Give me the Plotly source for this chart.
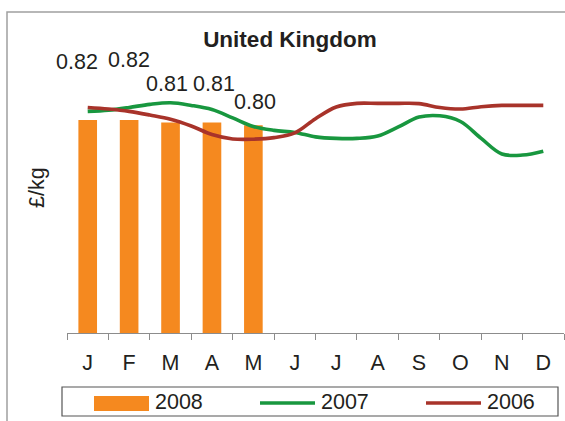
import plotly.graph_objects as go

# ---------------- data ----------------
months = ["J", "F", "M", "A", "M", "J", "J", "A", "S", "O", "N", "D"]
series_names = ["2008", "2007", "2006"]

bar_x = [0, 1, 2, 3, 4]
bar_2008 = [0.82, 0.82, 0.81, 0.81, 0.80]
bar_labels = ["0.82", "0.82", "0.81", "0.81", "0.80"]

# half-month positions (month index) for the line series
line_x = [i / 2 for i in range(23)]
line_2007 = [0.853, 0.858, 0.868, 0.880, 0.886, 0.876, 0.860, 0.828, 0.795, 0.780,
             0.772, 0.755, 0.749, 0.749, 0.758, 0.793, 0.831, 0.836, 0.814, 0.749,
             0.689, 0.685, 0.700]
line_2006 = [0.868, 0.862, 0.853, 0.839, 0.823, 0.797, 0.764, 0.747, 0.746, 0.752,
             0.770, 0.825, 0.870, 0.884, 0.884, 0.884, 0.883, 0.868, 0.862, 0.871,
             0.876, 0.876, 0.876]

# ---------------- style ----------------
W, H = 565, 421
ML, MR, MT, MB = 67, 1, 30, 88
PW, PH = W - ML - MR, H - MT - MB
Y_MAX = PH / 259.8

ORANGE = "#F5891F"
GREEN = "#18973F"
RED = "#A8332A"
TEXT = "#231F20"
AXIS = "#8C8C8C"
FONT = "Liberation Sans, Arial, sans-serif"
FS = 21.5
FS_TITLE = 22.5

# manual data-label nudges (category units, value units)
label_dx = [-0.26, 0.0, -0.09, 0.05, 0.05]
label_dy = [0.224, 0.231, 0.148, 0.148, 0.089]


def px_x(p):
    return (p - ML) / PW


def px_y(p):
    return (H - MB - p) / PH


fig = go.Figure()
fig.add_trace(go.Bar(x=bar_x, y=bar_2008, name=series_names[0], width=0.45,
                     marker=dict(color=ORANGE, line=dict(width=0)), showlegend=False))
fig.add_trace(go.Scatter(x=line_x, y=line_2007, name=series_names[1], mode="lines",
                         line=dict(color=GREEN, width=3.6, shape="spline"), showlegend=False))
fig.add_trace(go.Scatter(x=line_x, y=line_2006, name=series_names[2], mode="lines",
                         line=dict(color=RED, width=3.6, shape="spline"), showlegend=False))

annotations = []
for x, v, t, dx, dy in zip(bar_x, bar_2008, bar_labels, label_dx, label_dy):
    annotations.append(dict(x=x + dx, y=v + dy, text=t, showarrow=False,
                            xanchor="center", yanchor="middle",
                            font=dict(size=FS, color=TEXT, family=FONT)))

# y-axis title
annotations.append(dict(xref="paper", yref="paper", x=px_x(37), y=px_y(188), text="£/kg",
                        textangle=-90, showarrow=False, xanchor="center", yanchor="middle",
                        font=dict(size=FS, color=TEXT, family=FONT)))

shapes = [
    # outer chart border (left and top visible)
    dict(type="rect", xref="paper", yref="paper", x0=px_x(7), y0=px_y(H + 20),
         x1=px_x(W + 20), y1=px_y(12), line=dict(color="#A0A0A0", width=1.5)),
    # legend box
    dict(type="rect", xref="paper", yref="paper", x0=px_x(62), y0=px_y(416),
         x1=px_x(558), y1=px_y(387), line=dict(color="#555555", width=1.2)),
    # legend swatches
    dict(type="rect", xref="paper", yref="paper", x0=px_x(94), y0=px_y(411),
         x1=px_x(149), y1=px_y(396), fillcolor=ORANGE, line=dict(width=0)),
    dict(type="line", xref="paper", yref="paper", x0=px_x(260), y0=px_y(403),
         x1=px_x(315), y1=px_y(403), line=dict(color=GREEN, width=3.6)),
    dict(type="line", xref="paper", yref="paper", x0=px_x(426), y0=px_y(403),
         x1=px_x(481), y1=px_y(403), line=dict(color=RED, width=3.6)),
]
for name, left in zip(series_names, [153, 319, 485]):
    annotations.append(dict(xref="paper", yref="paper", x=px_x(left), y=px_y(402), text=name,
                            showarrow=False, xanchor="left", yanchor="middle",
                            font=dict(size=FS, color=TEXT, family=FONT)))

fig.update_layout(
    width=W, height=H,
    margin=dict(l=ML, r=MR, t=MT, b=MB, pad=0),
    paper_bgcolor="white", plot_bgcolor="white",
    showlegend=False,
    title=dict(text="United Kingdom", x=290 / W, xref="container", xanchor="center",
               y=1 - 39 / H, yref="container", yanchor="middle",
               font=dict(size=FS_TITLE, color=TEXT, family=FONT, weight="bold")),
    font=dict(family=FONT, color=TEXT, size=FS),
    xaxis=dict(range=[-0.5, 11.5], tickvals=list(range(12)), ticktext=months,
               ticks="", showline=True, linecolor=AXIS, linewidth=1, showgrid=False,
               zeroline=False, ticklabelstandoff=10,
               tickfont=dict(size=FS, color=TEXT, family=FONT),
               minor=dict(tickvals=[i - 0.5 for i in range(13)], ticks="outside",
                          ticklen=6, tickcolor=AXIS, tickwidth=1, showgrid=False)),
    yaxis=dict(range=[0, Y_MAX], showticklabels=False, showline=False, showgrid=False,
               zeroline=False, ticks=""),
    annotations=annotations,
    shapes=shapes,
)

fig.write_html("out.html", config={"displayModeBar": False},
               post_script="document.body.style.margin='0';document.body.style.overflow='hidden';")
